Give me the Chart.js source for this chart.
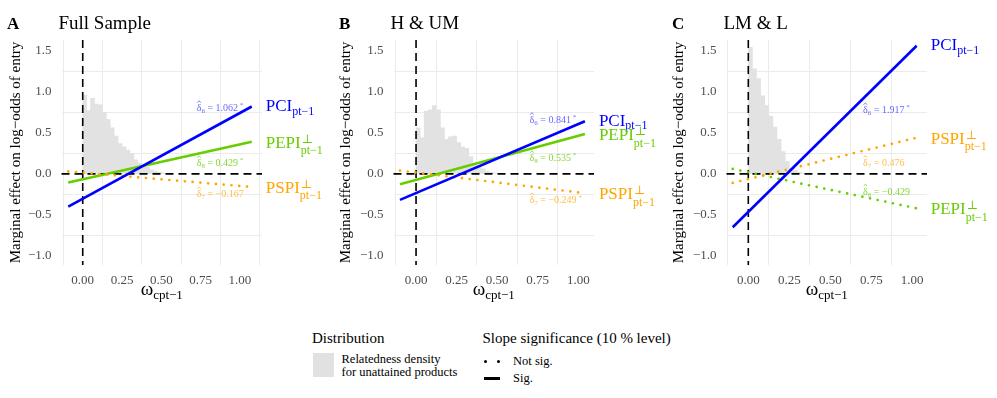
<!DOCTYPE html>
<html>
<head>
<meta charset="utf-8">
<script src="https://cdn.jsdelivr.net/npm/chart.js@4.4.1/dist/chart.umd.min.js"></script>
<style>
    body { margin: 0; background: #fff; width: 997px; height: 398px; position: relative; overflow: hidden;
           font-family: 'Liberation Serif', 'DejaVu Serif', serif; color: #000; }
    canvas { position: absolute; top: 0; }
    .t { position: absolute; white-space: nowrap; line-height: 1; }
</style>
</head>
<body>
<canvas id="chartA" width="332" height="310" style="left:0px"></canvas>
<canvas id="chartB" width="332" height="310" style="left:332px"></canvas>
<canvas id="chartC" width="332" height="310" style="left:665px"></canvas>

<!-- legend -->
<div class="t" style="left:312px; top:330.5px; font-size:15px">Distribution</div>
<div style="position:absolute; left:312.5px; top:353px; width:21px; height:24px; background:#e1e1e1"></div>
<div class="t" style="left:341.5px; top:353px; font-size:12.5px">Relatedness density</div>
<div class="t" style="left:341.5px; top:366px; font-size:12.5px">for unattained products</div>
<div class="t" style="left:482.5px; top:330.5px; font-size:15px">Slope significance (10 % level)</div>
<div style="position:absolute; left:483.5px; top:359.5px; width:3px; height:3px; border-radius:50%; background:#000"></div>
<div style="position:absolute; left:496.5px; top:359.5px; width:3px; height:3px; border-radius:50%; background:#000"></div>
<div class="t" style="left:513px; top:355px; font-size:12.5px">Not sig.</div>
<div style="position:absolute; left:484px; top:377px; width:16px; height:2.6px; background:#000"></div>
<div class="t" style="left:513px; top:371.5px; font-size:12.5px">Sig.</div>

<script>
// histogram bins (width 0.025) of relatedness for unattained products
const binCentres = [0.0125, 0.0375, 0.0625, 0.0875, 0.1125, 0.1375, 0.1625, 0.1875, 0.2125, 0.2375,
                    0.2625, 0.2875, 0.3125, 0.3375, 0.3625, 0.3875, 0.4125, 0.4375, 0.4625, 0.4875, 0.5125];
const densityFull = [0.96, 0.77, 0.92, 0.85, 0.84, 0.75, 0.66, 0.56, 0.46, 0.37, 0.33, 0.29, 0.25, 0.17, 0.13, 0.10, 0.08, 0.05, 0.035, 0.02, 0.01];
const densityHUM  = [0.56, 0.44, 0.76, 0.78, 0.83, 0.78, 0.56, 0.42, 0.45, 0.46, 0.38, 0.33, 0.31, 0.21, 0.13, 0.09, 0.06, 0.035, 0.02, 0.01];
const densityLML  = [1.54, 1.28, 1.16, 0.95, 0.83, 0.70, 0.57, 0.42, 0.27, 0.15, 0.07, 0.04, 0.02, 0.01];

// marginal effect lines: x end points and y at those ends (PCI, PSPI, PEPI)
const seriesNames = ['PCI', 'PSPI', 'PEPI'];
const seriesIndex = [6, 7, 8];
const xEndsFull = [-0.092, 1.075];
const pciFull   = [-0.40, 0.82];
const pspiFull  = [0.03, -0.16];
const pepiFull  = [-0.105, 0.39];
const xEndsHUM  = [-0.099, 1.041];
const pciHUM    = [-0.317, 0.64];
const pspiHUM   = [0.04, -0.236];
const pepiHUM   = [-0.126, 0.484];
const xEndsLML  = [-0.095, 1.027];
const pciLML    = [-0.65, 1.56];
const pspiLML   = [-0.11, 0.44];
const pepiLML   = [0.06, -0.42];

// estimated slopes and significance
const slopesFull = [1.062, -0.167, 0.429];
const starsFull  = ['*', '', '*'];
const slopesHUM  = [0.841, -0.249, 0.535];
const starsHUM   = ['*', '+', '*'];
const slopesLML  = [1.917, 0.476, -0.429];
const starsLML   = ['*', '', ''];

// axis ticks
const yTickLabels = [-1.0, -0.5, 0.0, 0.5, 1.0, 1.5];
const xTickLabels = [0.00, 0.25, 0.50, 0.75, 1.00];

const SERIF = "'Liberation Serif', 'DejaVu Serif', serif";
const colours = ['#0000ff', '#ffa500', '#66cd00'];
const softColours = ['rgba(0,0,255,0.62)', 'rgba(255,165,0,0.72)', 'rgba(102,205,0,0.8)'];
const gridColour = '#ebebeb';
const histFill = '#e2e2e2';

const near = (a, b) => Math.abs(a - b) < 1e-6;
const minus = s => s.replace('-', '\u2212');

function drawDelta(ctx, x, base, idx, value, star, colour) {
    ctx.fillStyle = colour;
    ctx.strokeStyle = colour;
    ctx.font = `10px ${SERIF}`;
    ctx.fillText('\u03b4', x, base);
    const dw = ctx.measureText('\u03b4').width;
    ctx.lineWidth = 0.8;
    ctx.beginPath();
    ctx.moveTo(x + dw / 2 - 1.8, base - 8.5);
    ctx.lineTo(x + dw / 2, base - 10.5);
    ctx.lineTo(x + dw / 2 + 1.8, base - 8.5);
    ctx.stroke();
    let cx = x + dw;
    ctx.font = `7px ${SERIF}`;
    ctx.fillText(String(idx), cx, base + 2);
    cx += ctx.measureText(String(idx)).width;
    ctx.font = `10px ${SERIF}`;
    const txt = ' = ' + (value < 0 ? '\u2212' : '') + Math.abs(value).toFixed(3);
    ctx.fillText(txt, cx, base);
    cx += ctx.measureText(txt).width;
    if (star) {
        ctx.font = `7px ${SERIF}`;
        ctx.fillText(' ' + star, cx, base - 4);
    }
}

function drawSeriesLabel(ctx, x, yMid, name, colour) {
    const perp = name !== 'PCI';
    const base = yMid + (perp ? 6 : 4.5);
    ctx.fillStyle = colour;
    ctx.font = `17px ${SERIF}`;
    ctx.fillText(name, x, base);
    const w = ctx.measureText(name).width;
    ctx.font = `12px ${SERIF}`;
    ctx.fillText('pt\u22121', x + w, base + (perp ? 6.5 : 3.5));
    if (perp) ctx.fillText('\u22a5', x + w + 1, base - 5);
}

const panelDeco = {
    id: 'panelDeco',
    afterDatasetDraw(chart, args) {
        if (args.index !== 0) return;
        // dashed reference lines at zero, on top of the histogram
        const {ctx, chartArea: a, scales: {x, y}} = chart;
        const x0 = x.getPixelForValue(0), y0 = y.getPixelForValue(0);
        ctx.save();
        ctx.strokeStyle = '#000';
        ctx.lineWidth = 1.6;
        ctx.setLineDash([8, 5]);
        ctx.beginPath();
        ctx.moveTo(a.left, y0); ctx.lineTo(a.right, y0);
        ctx.moveTo(x0, a.top); ctx.lineTo(x0, a.bottom);
        ctx.stroke();
        ctx.restore();
    },
    afterDraw(chart, args, o) {
        const {ctx, chartArea: a, scales: {x, y}} = chart;
        ctx.save();
        ctx.textAlign = 'left';
        ctx.textBaseline = 'alphabetic';
        ctx.fillStyle = '#000';
        ctx.font = `bold 17px ${SERIF}`;
        ctx.fillText(o.letter, 7, 29);
        ctx.font = `19px ${SERIF}`;
        ctx.fillText(o.title, a.left - 3, 29);

        // x axis title: omega_cpt-1
        ctx.font = `19px ${SERIF}`;
        const ow = ctx.measureText('\u03c9').width;
        ctx.font = `13px ${SERIF}`;
        const sw = ctx.measureText('cpt\u22121').width;
        const sx = (a.left + a.right) / 2 - (ow + sw) / 2;
        ctx.font = `19px ${SERIF}`;
        ctx.fillText('\u03c9', sx, 295);
        ctx.font = `13px ${SERIF}`;
        ctx.fillText('cpt\u22121', sx + ow, 299);

        // line end labels and slope annotations
        o.series.forEach((s, i) => {
            const last = s.xEnds.length - 1;
            const px = x.getPixelForValue(s.xEnds[last]);
            const py = y.getPixelForValue(s.values[last]);
            drawSeriesLabel(ctx, px + 14, py, seriesNames[i], colours[i]);
            drawDelta(ctx, x.getPixelForValue(o.noteX), y.getPixelForValue(o.noteY[i]) + 3.5,
                      seriesIndex[i], s.slope, s.star, softColours[i]);
        });
        ctx.restore();
    }
};

function makePanel(id, cfg) {
    const datasets = [{
        type: 'bar',
        data: cfg.density.map((v, i) => ({x: binCentres[i], y: v})),
        backgroundColor: histFill,
        borderWidth: 0,
        barPercentage: 1,
        categoryPercentage: 1,
        order: 10
    }];
    cfg.series.forEach((s, i) => {
        datasets.push({
            type: 'line',
            data: s.xEnds.map((xv, k) => ({x: xv, y: s.values[k]})),
            borderColor: colours[i],
            borderWidth: s.star === '*' ? 2.6 : 2.7,
            borderDash: s.star === '*' ? [] : [0, 7.8],
            borderCapStyle: s.star === '*' ? 'butt' : 'round',
            pointRadius: 0,
            tension: 0,
            fill: false,
            order: 1
        });
    });

    new Chart(document.getElementById(id), {
        type: 'line',
        data: {datasets},
        options: {
            responsive: false,
            animation: false,
            layout: {padding: {top: 40, right: 70, bottom: 0, left: 0}},
            plugins: {legend: {display: false}, tooltip: {enabled: false}, panelDeco: cfg},
            scales: {
                x: {
                    type: 'linear',
                    min: cfg.xMin,
                    max: cfg.xMax,
                    offset: false,
                    border: {display: false},
                    grid: {
                        offset: false,
                        drawTicks: false,
                        lineWidth: 1,
                        color: c => xTickLabels.some(t => near(t, c.tick.value)) || near(c.tick.value % 0.25, 0) ? 'transparent' : gridColour
                    },
                    ticks: {
                        stepSize: 0.125,
                        includeBounds: false,
                        autoSkip: false,
                        maxRotation: 0,
                        padding: 8,
                        color: '#4d4d4d',
                        font: {family: SERIF, size: 13},
                        callback: v => xTickLabels.some(t => near(t, v)) ? v.toFixed(2) : ''
                    },
                    afterFit: s => { s.height = 45; }
                },
                y: {
                    type: 'linear',
                    min: -1.11,
                    max: 1.63,
                    border: {display: false},
                    grid: {
                        drawTicks: false,
                        lineWidth: 1,
                        color: c => near(Math.abs(c.tick.value * 4) % 2, 1) ? gridColour : 'transparent'
                    },
                    ticks: {
                        stepSize: 0.25,
                        includeBounds: false,
                        autoSkip: false,
                        padding: 10,
                        color: '#4d4d4d',
                        font: {family: SERIF, size: 13},
                        callback: v => yTickLabels.some(t => near(t, v)) ? minus(v.toFixed(1)) : ''
                    },
                    title: {
                        display: true,
                        text: 'Marginal effect on log\u2212odds of entry',
                        color: '#000',
                        font: {family: SERIF, size: 15},
                        padding: {top: cfg.titlePad, bottom: 0}
                    },
                    afterFit: s => { s.width = 61.5; }
                }
            }
        },
        plugins: [panelDeco]
    });
}

function series(xEnds, values, slopes, stars) {
    return values.map((v, i) => ({xEnds, values: v, slope: slopes[i], star: stars[i]}));
}

makePanel('chartA', {
    letter: 'A', title: 'Full Sample', xMin: -0.135, xMax: 1.14, titlePad: 6.8,
    density: densityFull, noteX: 0.725, noteY: [0.805, -0.244, 0.134],
    series: series(xEndsFull, [pciFull, pspiFull, pepiFull], slopesFull, starsFull)
});
makePanel('chartB', {
    letter: 'B', title: 'H & UM', xMin: -0.139, xMax: 1.097, titlePad: 4.6,
    density: densityHUM, noteX: 0.70, noteY: [0.66, -0.317, 0.195],
    series: series(xEndsHUM, [pciHUM, pspiHUM, pepiHUM], slopesHUM, starsHUM)
});
makePanel('chartC', {
    letter: 'C', title: 'LM & L', xMin: -0.133, xMax: 1.09, titlePad: 4.6,
    density: densityLML, noteX: 0.70, noteY: [0.78, 0.138, -0.21],
    series: series(xEndsLML, [pciLML, pspiLML, pepiLML], slopesLML, starsLML)
});
</script>
</body>
</html>
